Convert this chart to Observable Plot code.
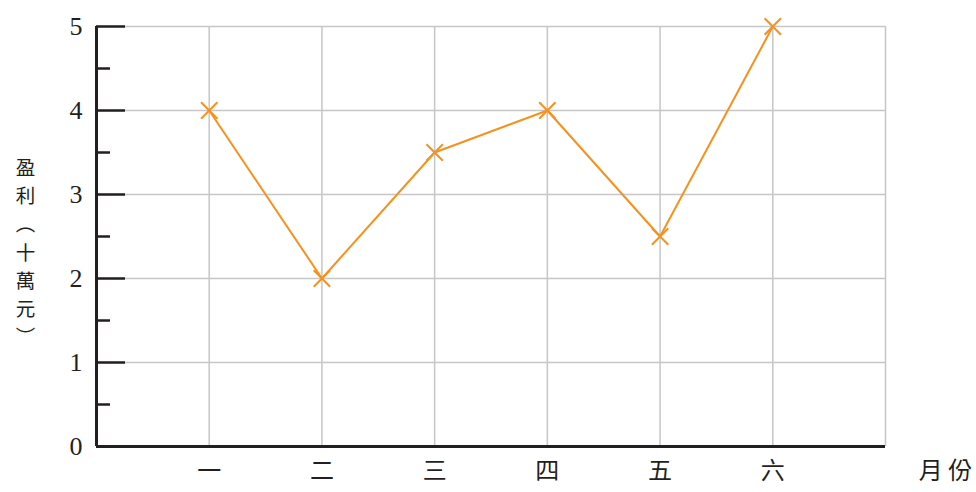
<!DOCTYPE html>
<html>
<head>
<meta charset="utf-8">
<script src="https://cdn.jsdelivr.net/npm/d3@7"></script>
<script src="https://cdn.jsdelivr.net/npm/@observablehq/plot@0.6"></script>
<style>
  html, body { margin: 0; padding: 0; background: #fff; }
  #chart svg { display: block; }
</style>
</head>
<body>
<div id="chart"></div>
<script>
// Data
const months = ["一", "二", "三", "四", "五", "六"];
const profits = [4, 2, 3.5, 4, 2.5, 5];
const yTicks = [0, 1, 2, 3, 4, 5];
const yMinorTicks = [0.5, 1.5, 2.5, 3.5, 4.5];
const yLabel = ["盈", "利", "︵", "十", "萬", "元", "︶"];
const xUnitLabel = "月份";

const data = months.map((m, i) => ({label: m, pos: i + 1, value: profits[i]}));
const gridXs = d3.range(1, months.length + 2);
const gridYs = yTicks.filter(d => d > 0);

const serif = "'Liberation Serif', 'DejaVu Serif', serif";
const cjk = "'Noto Sans CJK TC', 'Noto Sans CJK SC', sans-serif";
const orange = "#F5921E";
const ink = "#231f20";

const chart = Plot.plot({
  width: 976,
  height: 492,
  marginLeft: 96,
  marginRight: 91,
  marginTop: 26,
  marginBottom: 46,
  style: {background: "#fff", overflow: "visible"},
  x: {type: "linear", domain: [0, months.length + 1], axis: null},
  y: {domain: [0, 5], axis: null},
  marks: [
    Plot.gridX(gridXs, {stroke: "#c6c6c6", strokeOpacity: 1, strokeWidth: 1.5}),
    Plot.gridY(gridYs, {stroke: "#c6c6c6", strokeOpacity: 1, strokeWidth: 1.5}),
    // major ticks drawn inward
    Plot.axisY(yTicks, {anchor: "left", label: null, tickSize: 29, dx: 29, tickFormat: () => "", stroke: ink, strokeWidth: 2.5}),
    // minor ticks
    Plot.axisY(yMinorTicks, {anchor: "left", label: null, tickSize: 14, dx: 14, tickFormat: () => "", stroke: ink, strokeWidth: 2.5}),
    // tick labels
    Plot.axisY(yTicks, {anchor: "left", label: null, tickSize: 0, tickPadding: 14, tickFormat: d => String(d), fontSize: 26, fontFamily: serif, fill: ink}),
    Plot.ruleX([0], {stroke: ink, strokeWidth: 3}),
    Plot.ruleY([0], {stroke: ink, strokeWidth: 3}),
    Plot.line(data, {x: "pos", y: "value", stroke: orange, strokeWidth: 2}),
    Plot.dot(data, {x: "pos", y: "value", symbol: "times", r: 7.5, stroke: orange, strokeWidth: 2}),
    Plot.text(data, {x: "pos", text: "label", frameAnchor: "bottom", dy: 32, fontSize: 24, fontFamily: cjk, fill: ink}),
    Plot.text([xUnitLabel], {frameAnchor: "bottom-right", textAnchor: "middle", dx: 60, dy: 32, fontSize: 24, fontFamily: cjk, fill: ink, text: d => d.split("").join(" ")}),
    Plot.text([yLabel.join("\n")], {frameAnchor: "left", textAnchor: "middle", dx: -71, dy: 14, fontSize: 19.5, lineHeight: 1.45, fontFamily: cjk, fill: ink, text: d => d})
  ]
});
document.getElementById("chart").append(chart);
</script>
</body>
</html>
